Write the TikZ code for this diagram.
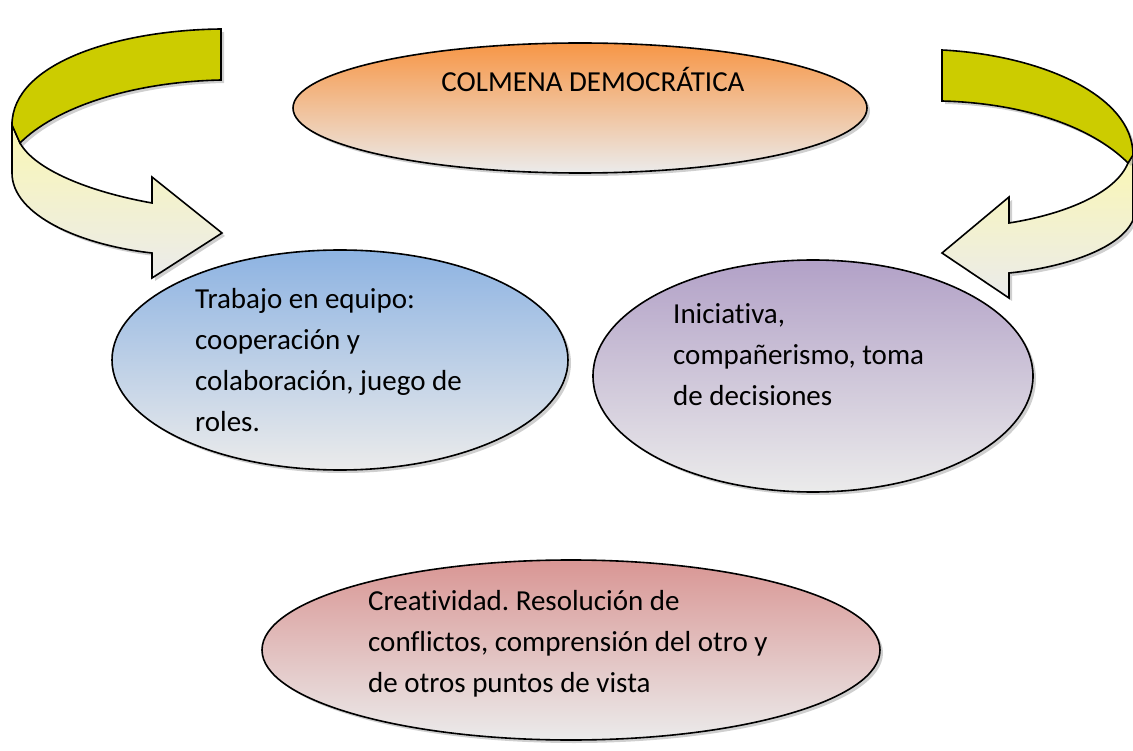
\documentclass[tikz,border=0pt]{standalone}
\usepackage{fontspec}
\setmainfont[Ligatures=NoCommon]{Carlito}
\usetikzlibrary{shapes.geometric,shadows}
\frenchspacing

\definecolor{ovalOrange}{HTML}{F79646}
\definecolor{ovalBlue}{HTML}{8DB3E2}
\definecolor{ovalPurple}{HTML}{B2A1C7}
\definecolor{ovalRed}{HTML}{D99694}
\definecolor{fadeGray}{HTML}{EBEBEB}
\definecolor{ribbonDark}{HTML}{CCCC00}
\definecolor{ribbonPale}{HTML}{FAF7B4}

\begin{document}
\begin{tikzpicture}[x=1pt,y=-1pt]

  \useasboundingbox (0,0) rectangle (1133,751);

  % node styles
  \tikzstyle{Oval}=[
  shape=ellipse,draw,
  line width=1.6pt,
  inner sep=0pt,
  bottom color=fadeGray,
  drop shadow={shadow xshift=3pt,shadow yshift=-3pt,fill=gray!75}]

  \tikzstyle{Txt}=[font=\fontsize{29}{41}\selectfont,align=left,inner sep=0pt,anchor=north west]

  \tikzstyle{Ribbon}=[draw,line width=1.6pt,
  drop shadow={shadow xshift=3pt,shadow yshift=-3pt,fill=gray!75}]

  % left curved arrow
  \path[Ribbon,top color=ribbonPale,bottom color=fadeGray]
    (12,125) -- (12,173) .. controls (12,215) and (80,245) .. (152,253)
    -- (152,278) -- (222,233) -- (152,177) -- (152,203)
    .. controls (90,192) and (35,170) .. (20,143) -- cycle;
  \path[Ribbon,fill=ribbonDark]
    (221,29) .. controls (120,30) and (12,62) .. (12,125)
    -- (20,143) .. controls (55,108) and (130,82) .. (221,80) -- cycle;

  % right curved arrow
  \path[Ribbon,top color=ribbonPale,bottom color=fadeGray]
    (1133,155) -- (1133,220) .. controls (1120,250) and (1060,268) .. (1009,273)
    -- (1009,298) -- (942,253) -- (1009,197) -- (1009,223)
    .. controls (1060,215) and (1115,195) .. (1128,163) -- cycle;
  \path[Ribbon,fill=ribbonDark]
    (942,50) .. controls (1040,55) and (1133,95) .. (1133,155)
    -- (1128,163) .. controls (1090,125) and (1020,103) .. (942,101) -- cycle;

  % ovals
  \node[Oval,top color=ovalOrange,minimum width=574pt,minimum height=130pt] (Top) at (580,108) {};
  \node[Oval,top color=ovalBlue,minimum width=456pt,minimum height=220pt] (Left) at (340,360) {};
  \node[Oval,top color=ovalPurple,minimum width=440pt,minimum height=232pt] (Right) at (813,376) {};
  \node[Oval,top color=ovalRed,minimum width=618pt,minimum height=180pt] (Bottom) at (571,650) {};

  % texts
  \node[Txt,anchor=base] (TopTxt) at (593,92) {COLMENA DEMOCRÁTICA};
  \node[Txt] (LeftTxt) at (195,288) {Trabajo en equipo:\\cooperación y\\colaboración, juego de\\roles.};
  \node[Txt] (RightTxt) at (673,303) {Iniciativa,\\compañerismo, toma\\de decisiones};
  \node[Txt] (BottomTxt) at (368,590) {Creatividad. Resolución de\\conflictos, comprensión del otro y\\de otros puntos de vista};

\end{tikzpicture}
\end{document}
